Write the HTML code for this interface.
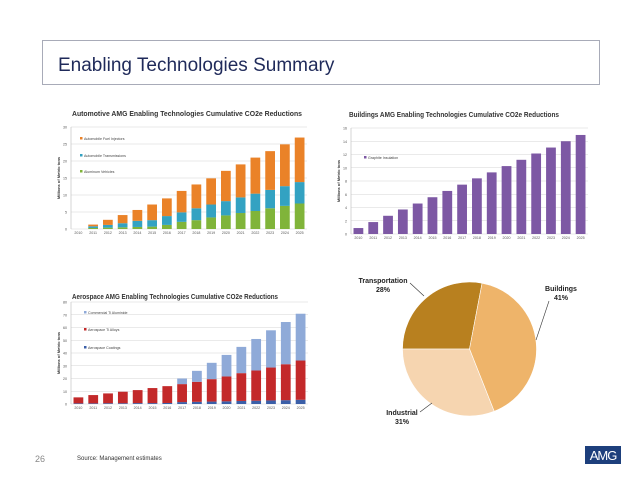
<!DOCTYPE html>
<html><head><meta charset="utf-8"><style>
body{margin:0;background:#fff;width:638px;height:493px;overflow:hidden;font-family:"Liberation Sans",sans-serif}
svg{display:block}
</style></head><body>
<svg id="s" width="638" height="493" viewBox="0 0 638 493" xmlns="http://www.w3.org/2000/svg" font-family="Liberation Sans, sans-serif">
<rect x="42.5" y="40.5" width="557" height="44" fill="#fff" stroke="#a8abb8"/>
<text x="58" y="71" font-size="19" fill="#1f2a5a">Enabling Technologies Summary</text>
<text x="35" y="462" font-size="9" fill="#888">26</text>
<text x="77" y="460" font-size="6" fill="#333">Source: Management estimates</text>
<g><rect x="585" y="446" width="36" height="18" fill="#1d3f7c"/><text x="603" y="460" font-size="13" fill="#fff" text-anchor="middle" letter-spacing="-1">AMG</text></g>
<g id="g"></g>
</svg>
<script>
const years=['2010','2011','2012','2013','2014','2015','2016','2017','2018','2019','2020','2021','2022','2023','2024','2025'];
const autoAluminum=[0,0.3,0.4,0.5,0.6,0.7,1.2,2.1,2.6,3.4,4.0,4.7,5.3,6.1,6.8,7.5];
const autoTransmissions=[0,0.5,0.8,1.2,1.8,1.9,2.6,2.8,3.5,3.8,4.2,4.6,5.1,5.4,5.8,6.3];
const autoFuelInjectors=[0,0.5,1.5,2.4,3.2,4.6,5.2,6.3,7.0,7.7,8.9,9.7,10.6,11.4,12.3,13.1];
const autoTicks=[0,5,10,15,20,25,30];
const buildGraphite=[0.9,1.8,2.75,3.7,4.6,5.55,6.5,7.45,8.4,9.3,10.25,11.2,12.15,13.05,14.0,14.95];
const buildTicks=[0,2,4,6,8,10,12,14,16];
const aeroCoatings=[0.5,0.5,0.6,0.6,0.7,0.7,0.8,1.5,1.7,1.9,2.1,2.4,2.6,2.8,3.0,3.3];
const aeroTiAlloys=[4.7,6.5,7.7,9,10.2,11.8,13.2,14.1,15.7,17.6,19.5,21.8,23.7,25.8,28.2,30.8];
const aeroTiAluminide=[0,0,0,0,0,0,0,4.4,8.6,12.8,16.9,20.6,24.7,29.2,33.1,36.7];
const aeroTicks=[0,10,20,30,40,50,60,70,80];
const pieLabels=['Transportation','Buildings','Industrial'];
const pieValues=[28,41,31];

const NS='http://www.w3.org/2000/svg';
const G=document.getElementById('g');
function mk(tag,attrs,parent){const e=document.createElementNS(NS,tag);for(const k in attrs)e.setAttribute(k,attrs[k]);(parent||G).appendChild(e);return e;}

function chart(cfg){
  const grp=mk('g',{});
  
  
  const t=mk('text',{x:cfg.x0,y:cfg.titleY,'font-size':7.2,'font-weight':'bold',fill:'#333',textLength:cfg.titleW,lengthAdjust:'spacingAndGlyphs'},grp);
  t.textContent=cfg.title;
  
  
  const max=cfg.ticks[cfg.ticks.length-1];
  const y=v=>cfg.yb-(v/max)*(cfg.yb-cfg.yt);
  const bw=(cfg.xr-cfg.xl)/years.length;
  const x=i=>cfg.xl+i*bw;
  cfg.ticks.forEach(tv=>{
    const l=mk('line',{x1:cfg.xl,x2:cfg.xr,y1:y(tv),y2:y(tv),stroke:'#d6d6d6','stroke-width':0.6},grp);
    
    
    const tl=mk('text',{x:cfg.xl-4,y:y(tv)+1.5,'font-size':3.6,fill:'#555','text-anchor':'end'},grp);
    tl.textContent=tv;
    
    
  });
  mk('line',{x1:cfg.xl,x2:cfg.xl,y1:cfg.yt,y2:cfg.yb,stroke:'#bbb','stroke-width':0.6},grp);
  const yt=mk('text',{transform:`translate(${cfg.xl-11},${(cfg.yt+cfg.yb)/2}) rotate(-90)`,'font-size':4,'font-weight':'bold',fill:'#333','text-anchor':'middle'},grp);
  yt.textContent='Millions of Metric tons';
  
  
  years.forEach((yr,i)=>{
    const tl=mk('text',{x:x(i)+bw/2,y:cfg.yb+5,'font-size':3.6,fill:'#555','text-anchor':'middle'},grp);
    tl.textContent=yr;
    
    
    let acc=0;
    cfg.series.forEach(s=>{
      const v=s.data[i];
      if(v>0){
        const r=mk('rect',{x:x(i)+bw*0.17,width:bw*0.66,y:y(acc+v),height:y(acc)-y(acc+v),fill:s.color},grp);
        
        
      }
      acc+=v;
    });
  });
  cfg.legend.forEach((lg,j)=>{
    const r=mk('rect',{x:cfg.lx,y:lg.y-3,width:2.5,height:2.5,fill:lg.color},grp);
    
    
    const tx=mk('text',{x:cfg.lx+4,y:lg.y,'font-size':3.6,fill:'#444'},grp);
    tx.textContent=lg.label;
    
    
  });
}

chart({name:'automotive-chart',title:'Automotive AMG Enabling Technologies Cumulative CO2e Reductions',x0:72,titleY:116,titleW:230,
 xl:71,xr:307,yt:127,yb:229,ticks:autoTicks,lx:80,
 series:[{key:'aluminum',data:autoAluminum,color:'#80b43a'},{key:'transmissions',data:autoTransmissions,color:'#33a2c2'},{key:'fuel-injectors',data:autoFuelInjectors,color:'#ea8228'}],
 legend:[{label:'Automobile Fuel Injectors',y:140,color:'#ea8228'},{label:'Automobile Transmissions',y:157,color:'#33a2c2'},{label:'Aluminum Vehicles',y:173,color:'#80b43a'}]});
chart({name:'buildings-chart',title:'Buildings AMG Enabling Technologies Cumulative CO2e Reductions',x0:349,titleY:117,titleW:210,
 xl:351,xr:588,yt:128,yb:234,ticks:buildTicks,lx:364,
 series:[{key:'graphite',data:buildGraphite,color:'#7d58a4'}],
 legend:[{label:'Graphite Insulation',y:159,color:'#7d58a4'}]});
chart({name:'aerospace-chart',title:'Aerospace AMG Enabling Technologies Cumulative CO2e Reductions',x0:72,titleY:299,titleW:206,
 xl:71,xr:308,yt:302,yb:404,ticks:aeroTicks,lx:84,
 series:[{key:'coatings',data:aeroCoatings,color:'#3b5fa8'},{key:'ti-alloys',data:aeroTiAlloys,color:'#c3292a'},{key:'ti-aluminide',data:aeroTiAluminide,color:'#8faad8'}],
 legend:[{label:'Commercial Ti Aluminide',y:314,color:'#8faad8'},{label:'Aerospace Ti Alloys',y:331,color:'#c3292a'},{label:'Aerospace Coatings',y:349,color:'#3b5fa8'}]});

const pg=mk('g',{});


const cx=469.5,cy=349,R=67;
const pieColors=['#b8801f','#eeb46a','#f6d5b0'];
const total=pieValues.reduce((a,b)=>a+b,0);
let ang=270;
const pt=a=>[cx+R*Math.sin(a*Math.PI/180),cy-R*Math.cos(a*Math.PI/180)];
pieValues.forEach((v,i)=>{
  const sweep=v/total*360;
  const [x1,y1]=pt(ang),[x2,y2]=pt(ang+sweep);
  const p=mk('path',{d:`M${cx},${cy}L${x1},${y1}A${R},${R} 0 ${sweep>180?1:0} 1 ${x2},${y2}Z`,fill:pieColors[i],stroke:'#fff','stroke-width':0.6},pg);
  
  
  ang+=sweep;
});
const labelPos=[[383,283,410,283,424,296],[561,291,549,301,536,340],[402,415,420,412,432,403]];
pieLabels.forEach((lb,i)=>{
  const [lx,ly,a1,b1,a2,b2]=labelPos[i];
  const l=mk('polyline',{points:`${a1},${b1} ${a2},${b2}`,fill:'none',stroke:'#333','stroke-width':0.6},pg);
  
  
  const t=mk('text',{x:lx,y:ly,'font-size':7,'font-weight':'bold',fill:'#222','text-anchor':'middle'},pg);
  t.textContent=lb;
  
  
  const t2=mk('text',{x:lx,y:ly+9,'font-size':7,'font-weight':'bold',fill:'#222','text-anchor':'middle'},pg);
  t2.textContent=pieValues[i]+'%';
  
  
});
</script>
</body></html>
